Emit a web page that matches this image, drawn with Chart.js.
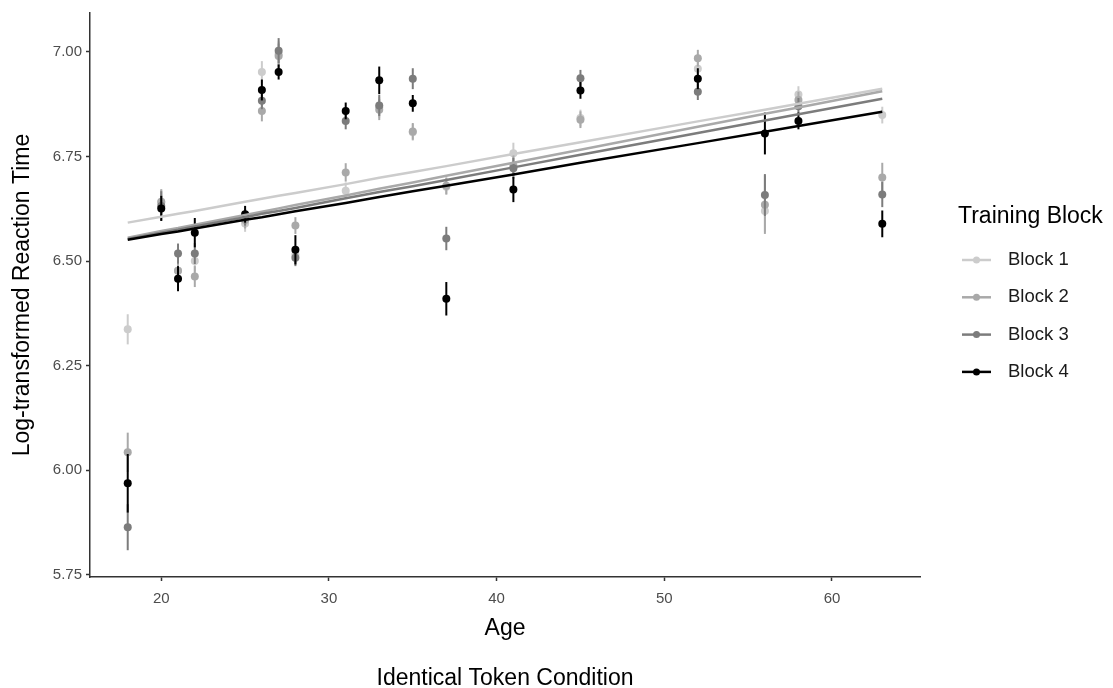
<!DOCTYPE html>
<html>
<head>
<meta charset="utf-8">
<script src="https://cdn.jsdelivr.net/npm/chart.js@4"></script>
<style>
  html, body { margin: 0; padding: 0; background: #fff; }
  #rtChart { display: block; }
</style>
</head>
<body>
<canvas id="rtChart" width="1113" height="688"></canvas>
<script>
const ages = [18, 20, 21, 22, 25, 26, 27, 28, 31, 33, 35, 37, 41, 45, 52, 56, 58, 63];
const blockNames = ['Block 1', 'Block 2', 'Block 3', 'Block 4'];
const blockColors = ['#CCCCCC', '#A9A9A9', '#7C7C7C', '#000000'];

// mean log RT per age, one array per training block
const block1Mean = [6.337, 6.640, 6.477, 6.500, 6.590, 6.952, 6.995, 6.515, 6.668, 6.868, 6.808, 6.678, 6.758, 6.842, 6.960, 6.620, 6.898, 6.849];
const block2Mean = [6.043, 6.642, 6.477, 6.463, 6.598, 6.859, 6.990, 6.585, 6.712, 6.862, 6.810, 6.680, 6.728, 6.838, 6.985, 6.635, 6.885, 6.700];
const block3Mean = [5.864, 6.632, 6.518, 6.518, 6.605, 6.883, 7.003, 6.508, 6.835, 6.872, 6.936, 6.554, 6.722, 6.937, 6.905, 6.658, 6.870, 6.659];
const block4Mean = [5.969, 6.626, 6.458, 6.568, 6.612, 6.909, 6.952, 6.527, 6.859, 6.932, 6.877, 6.410, 6.671, 6.908, 6.936, 6.805, 6.835, 6.589];

// standard errors
const block1Se = [0.036, 0.030, 0.022, 0.025, 0.020, 0.026, 0.030, 0.020, 0.020, 0.025, 0.020, 0.020, 0.025, 0.020, 0.025, 0.050, 0.020, 0.020];
const block2Se = [0.047, 0.030, 0.022, 0.025, 0.020, 0.025, 0.030, 0.020, 0.022, 0.025, 0.020, 0.020, 0.025, 0.020, 0.020, 0.070, 0.020, 0.035];
const block3Se = [0.055, 0.035, 0.024, 0.025, 0.020, 0.020, 0.030, 0.020, 0.020, 0.025, 0.025, 0.028, 0.025, 0.020, 0.020, 0.050, 0.020, 0.030];
const block4Se = [0.070, 0.030, 0.030, 0.035, 0.020, 0.025, 0.018, 0.035, 0.020, 0.033, 0.020, 0.040, 0.030, 0.020, 0.025, 0.050, 0.020, 0.032];

// model predictions
const block1Fit = [6.592, 6.606, 6.613, 6.620, 6.642, 6.649, 6.656, 6.663, 6.684, 6.699, 6.713, 6.727, 6.756, 6.784, 6.834, 6.862, 6.876, 6.912];
const block2Fit = [6.556, 6.572, 6.579, 6.587, 6.610, 6.618, 6.626, 6.634, 6.657, 6.673, 6.688, 6.704, 6.735, 6.766, 6.821, 6.852, 6.867, 6.906];
const block3Fit = [6.553, 6.568, 6.575, 6.583, 6.605, 6.613, 6.620, 6.627, 6.650, 6.665, 6.679, 6.694, 6.724, 6.754, 6.806, 6.836, 6.851, 6.888];
const block4Fit = [6.551, 6.565, 6.571, 6.578, 6.599, 6.605, 6.612, 6.619, 6.639, 6.653, 6.667, 6.680, 6.707, 6.735, 6.782, 6.809, 6.823, 6.857];

const yTicks = [5.75, 6.00, 6.25, 6.50, 6.75, 7.00];
const xTicks = [20, 30, 40, 50, 60];

const means = [block1Mean, block2Mean, block3Mean, block4Mean];
const ses = [block1Se, block2Se, block3Se, block4Se];
const fits = [block1Fit, block2Fit, block3Fit, block4Fit];

const FONT = "'Liberation Sans', Arial, sans-serif";

const toXY = vals => ages.map((a, i) => ({ x: a, y: vals[i] }));

const datasets = [];
blockNames.forEach((name, b) => {
  datasets.push({
    label: name,
    data: toXY(means[b]),
    se: ses[b],
    showLine: false,
    pointRadius: 4,
    pointBorderWidth: 0,
    pointBackgroundColor: blockColors[b],
    pointBorderColor: blockColors[b],
    order: 8 - b
  });
});
blockNames.forEach((name, b) => {
  datasets.push({
    label: name + ' fit',
    data: toXY(fits[b]),
    showLine: true,
    borderColor: blockColors[b],
    borderWidth: 2.5,
    pointRadius: 0,
    fill: false,
    order: 4 - b
  });
});

// vertical mean +/- se bars, drawn just before each point set
const errorBars = {
  id: 'errorBars',
  beforeDatasetDraw(chart, args) {
    const ds = chart.data.datasets[args.index];
    if (!ds.se) return;
    const { ctx, scales: { x, y } } = chart;
    ctx.save();
    ctx.strokeStyle = ds.pointBackgroundColor;
    ctx.lineWidth = 2;
    ds.data.forEach((p, i) => {
      const px = x.getPixelForValue(p.x);
      ctx.beginPath();
      ctx.moveTo(px, y.getPixelForValue(p.y - ds.se[i]));
      ctx.lineTo(px, y.getPixelForValue(p.y + ds.se[i]));
      ctx.stroke();
    });
    ctx.restore();
  }
};

// legend on the right: line key with a dot in the middle
const blockLegend = {
  id: 'blockLegend',
  afterDraw(chart) {
    const ctx = chart.ctx;
    const left = chart.chartArea.right + 38;
    ctx.save();
    ctx.fillStyle = '#000';
    ctx.textBaseline = 'middle';
    ctx.font = '23px ' + FONT;
    ctx.fillText('Training Block', left, 217);
    ctx.font = '18.5px ' + FONT;
    blockNames.forEach((name, b) => {
      const cy = 260 + b * 37.3;
      ctx.strokeStyle = blockColors[b];
      ctx.lineWidth = 2.5;
      ctx.beginPath();
      ctx.moveTo(left + 4, cy);
      ctx.lineTo(left + 33, cy);
      ctx.stroke();
      ctx.fillStyle = blockColors[b];
      ctx.beginPath();
      ctx.arc(left + 18.5, cy, 3.5, 0, Math.PI * 2);
      ctx.fill();
      ctx.fillStyle = '#1a1a1a';
      ctx.fillText(name, left + 50, cy);
    });
    ctx.restore();
  }
};

new Chart(document.getElementById('rtChart'), {
  type: 'scatter',
  data: { datasets },
  plugins: [errorBars, blockLegend],
  options: {
    responsive: false,
    animation: false,
    layout: { padding: { left: 0, top: 12, right: 193, bottom: 0 } },
    plugins: {
      legend: { display: false },
      tooltip: { enabled: false }
    },
    scales: {
      x: {
        type: 'linear',
        min: 15.75,
        max: 65.25,
        afterFit: s => { s.height = 111; },
        afterBuildTicks: s => { s.ticks = xTicks.map(v => ({ value: v })); },
        ticks: { color: '#4D4D4D', font: { family: FONT, size: 15 }, padding: 9, includeBounds: false },
        grid: { drawOnChartArea: false, drawTicks: true, tickLength: 4, tickColor: '#333', tickWidth: 1.5 },
        border: { display: true, color: '#333', width: 1.5 },
        title: {
          display: true,
          // axis name, blank line, then the condition caption
          text: ['Age', '', 'Identical Token Condition'],
          color: '#000',
          font: { family: FONT, size: 23, lineHeight: 25 / 23 },
          padding: { top: 0, bottom: -3 }
        }
      },
      y: {
        type: 'linear',
        min: 5.745,
        max: 7.093,
        afterFit: s => { s.width = 90; },
        afterBuildTicks: s => { s.ticks = yTicks.map(v => ({ value: v })); },
        ticks: {
          color: '#4D4D4D',
          font: { family: FONT, size: 15 },
          padding: 4,
          includeBounds: false,
          callback: v => Number(v).toFixed(2)
        },
        grid: { drawOnChartArea: false, drawTicks: true, tickLength: 4, tickColor: '#333', tickWidth: 1.5 },
        border: { display: true, color: '#333', width: 1.5 },
        title: {
          display: true,
          text: 'Log-transformed Reaction Time',
          color: '#000',
          font: { family: FONT, size: 23 },
          padding: { top: 9, bottom: 0 }
        }
      }
    }
  }
});
</script>
</body>
</html>
